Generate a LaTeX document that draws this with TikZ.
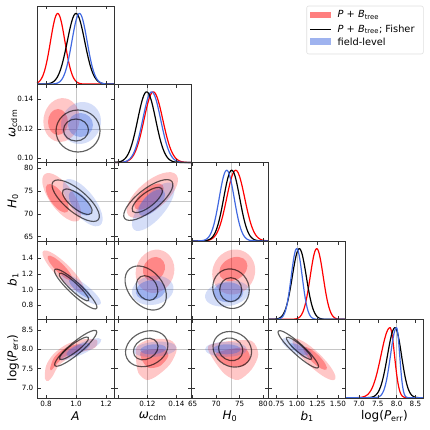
\documentclass[tikz,border=0pt]{standalone}
\usepackage{fontspec}
\setmainfont{DejaVu Sans}
\definecolor{chainred}{RGB}{255,0,0}
\definecolor{chainblue}{RGB}{65,105,225}
\tikzset{
  redout/.style={fill=chainred, fill opacity=0.22},
  redin/.style={fill=chainred, fill opacity=0.32},
  blueout/.style={fill=chainblue, fill opacity=0.22},
  bluein/.style={fill=chainblue, fill opacity=0.38},
  fisher/.style={draw=black, draw opacity=0.62, line width=1.15pt},
  fiducial/.style={draw=gray!45, line width=0.5pt},
  frame/.style={draw=black!80, line width=0.7pt},
  tick/.style={draw=black!80, line width=0.6pt},
  ticklab/.style={font=\fontsize{7.2}{8}\selectfont, inner sep=0pt},
  axlabel/.style={font=\fontsize{12}{14}\selectfont, inner sep=0pt},
  legtext/.style={font=\fontsize{9.8}{11}\selectfont, anchor=west, inner sep=0pt}
}
% one 2D contour: style, centre x, centre y, radii, clockwise angle
\newcommand{\blob}[6]{\path[#1] (#2,#3) ellipse [x radius=#4, y radius=#5, rotate={-1*(#6)}];}
% one 1D marginal: colour, left, right, base, peak, mean, sigma left, sigma right
\newcommand{\onedee}[8]{\draw[#1, line width=1.2pt] plot[domain=#2:#3, samples=140, smooth]
  (\x, {#4-(#4-#5)*exp(max(-9,-((\x-(#6))^2)/(2*ifthenelse(\x<#6,#7,#8)^2)))});}

\begin{document}
\begin{tikzpicture}[x=1pt, y=-1pt]
  % Panel sizes of the triangle
  \def\pw{77.2} % panel width
  \def\ph{78.4} % panel height
  \useasboundingbox (0,0) rectangle (430,430);

  % Fiducial lines
  \foreach \c/\xf in {0/76,1/147.4,2/231.7,3/297,4/396.6}
    \draw[fiducial] (\xf,{6+\ph*\c}) -- (\xf,398);
  \foreach \r/\yf in {1/129.3,2/201,3/289.3,4/349.3}
    \draw[fiducial] (37,\yf) -- ({37+\pw*\r},\yf);

  % Red contours (P + B_tree)
  \blob{redout}{61.5}{120}{18}{22}{10}
  \blob{redin}{58}{122}{10}{13}{0}
  \blob{redout}{61.7}{197.3}{28.7}{12}{54}
  \blob{redin}{57.3}{198.3}{17}{7}{54}
  \blob{redout}{152.3}{195}{31.4}{14}{-40}
  \blob{redin}{149}{196.7}{18}{8}{-40}
  \blob{redout}{63.3}{271.3}{28.5}{7.5}{45}
  \blob{redin}{60}{268}{17}{4.5}{45}
  \blob{redout}{155}{271.3}{22}{19}{-70}
  \blob{redin}{154}{269}{12.5}{10.5}{-60}
  \blob{redout}{233.7}{272}{23}{21}{-60}
  \blob{redin}{233.3}{269}{15}{11}{-30}
  \fill[redout] plot[smooth cycle] coordinates {(45,378.7) (46,366) (53.3,354.3) (66.7,344.3)
    (83.3,339.3) (96.7,340) (95,347.7) (80,352.7) (66.7,359.3) (58.3,366) (52.7,376) (48.3,381)};
  \fill[redin] plot[smooth cycle] coordinates {(50,368.7) (54,357.7) (63.3,349.3) (76.7,344.3)
    (83.3,346) (76.7,352) (63.3,357.7) (55,366) (51.7,370)};
  \fill[redout] plot[smooth cycle] coordinates {(137.3,346) (150,339.3) (170,340) (176.7,349.3)
    (170,364.3) (156.7,376) (146.7,380) (138.3,372.7) (136,357.7)};
  \fill[redin] plot[smooth cycle] coordinates {(141.7,351) (163.3,349.3) (168.3,356) (160,366)
    (148.3,367.7) (141.7,359.3)};
  \fill[redout] plot[smooth cycle] coordinates {(208.3,346) (230,341) (251.7,341) (258.3,354.3)
    (251.7,369.3) (238.3,380) (225,374.3) (213.3,359.3)};
  \fill[redin] plot[smooth cycle] coordinates {(216.7,352.7) (243.3,347.7) (250,357.7) (243.3,366)
    (230,366) (220,361)};
  \blob{redout}{314}{359.3}{29}{7.5}{44}
  \blob{redin}{315}{358.3}{16}{4.5}{44}

  % Blue contours (field-level)
  \blob{blueout}{81}{123}{19.5}{21.5}{30}
  \blob{bluein}{80.5}{125}{12.5}{12}{0}
  \blob{blueout}{82.7}{202.7}{28.5}{12}{52}
  \blob{bluein}{80}{203.3}{15}{7.5}{50}
  \blob{blueout}{153.3}{206.7}{30}{12}{-50}
  \blob{bluein}{151.7}{202.7}{17}{8}{-45}
  \blob{blueout}{81}{289.3}{24.4}{6.5}{37}
  \blob{bluein}{80}{288.7}{14}{4}{40}
  \blob{blueout}{152.7}{290.3}{21}{14.5}{-10}
  \blob{bluein}{150.7}{290.3}{15}{10}{-10}
  \blob{blueout}{227.3}{293.7}{22.5}{12.5}{-10}
  \blob{bluein}{228.3}{292.3}{15}{10}{0}
  \blob{blueout}{80}{349.3}{23.5}{5.5}{-25}
  \blob{bluein}{78.3}{349.3}{13}{4}{-25}
  \blob{blueout}{155}{349.3}{21.7}{7.5}{-5}
  \blob{bluein}{153.3}{349.3}{13}{5}{-5}
  \blob{blueout}{226}{349.3}{21}{7.5}{0}
  \blob{bluein}{226.7}{349.3}{14}{5}{0}
  \blob{blueout}{297.3}{348.3}{18}{5.5}{30}
  \blob{bluein}{299}{349.3}{10.5}{3.5}{30}

  % Black contours (Fisher)
  \blob{fisher}{78}{131}{22}{21}{0}
  \blob{fisher}{76}{130}{12.5}{11}{0}
  \blob{fisher}{75.7}{200.7}{29.5}{11}{40}
  \blob{fisher}{77.3}{201.7}{18.3}{7}{39}
  \blob{fisher}{148.3}{200}{30}{11}{-38}
  \blob{fisher}{147.3}{200}{18.5}{7}{-38}
  \blob{fisher}{75.7}{289}{28.5}{6}{43}
  \blob{fisher}{74}{287}{20}{4}{43}
  \blob{fisher}{145.7}{288}{25}{17}{50}
  \blob{fisher}{147}{288}{13}{10}{60}
  \blob{fisher}{231}{288.7}{20}{18}{70}
  \blob{fisher}{230.7}{289.7}{11}{12}{0}
  \blob{fisher}{75.7}{348.3}{27}{6}{-40}
  \blob{fisher}{74}{348.3}{18}{4}{-37}
  \blob{fisher}{146.7}{348.7}{22}{17}{-25}
  \blob{fisher}{145.7}{349}{13}{10}{-30}
  \blob{fisher}{232.3}{349.3}{20}{17}{30}
  \blob{fisher}{230.7}{349.3}{12.5}{11}{30}
  \blob{fisher}{298.3}{349.3}{27}{5.5}{42.5}
  \blob{fisher}{299}{348.3}{16.5}{3.5}{41}

  % 1D marginals on the diagonal
  \onedee{chainred}{37}{114.2}{84.1}{13.5}{57.7}{7.2}{7.2}
  \onedee{black}{37}{114.2}{84.1}{13.5}{76}{8.7}{8.7}
  \onedee{chainblue}{37}{114.2}{84.1}{13.5}{79.5}{7.6}{7.6}
  \onedee{chainred}{114.2}{191.4}{162.5}{91.9}{153.3}{9.3}{9.5}
  \onedee{chainblue}{114.2}{191.4}{162.5}{91.9}{151.7}{9}{9}
  \onedee{black}{114.2}{191.4}{162.5}{91.9}{146.7}{9}{9}
  \onedee{chainred}{191.4}{268.6}{240.9}{170.3}{235.7}{9}{9}
  \onedee{black}{191.4}{268.6}{240.9}{170.3}{231.7}{8}{8}
  \onedee{chainblue}{191.4}{268.6}{240.9}{170.3}{226.7}{7.5}{7.5}
  \onedee{chainred}{268.6}{345.8}{319.3}{248.7}{316.7}{6.5}{6.5}
  \onedee{black}{268.6}{345.8}{319.3}{248.7}{299.3}{7}{7}
  \onedee{chainblue}{268.6}{345.8}{319.3}{248.7}{296.7}{5.5}{5.5}
  \onedee{chainred}{345.8}{423}{397.7}{327.7}{390}{9}{4.5}
  \onedee{black}{345.8}{423}{397.7}{327.7}{395}{7.5}{6.5}
  \onedee{chainblue}{345.8}{423}{397.7}{327.7}{396.5}{6}{3.2}

  % Panel frames
  \foreach \r in {0,...,4}
    \foreach \c in {0,...,\r}
      \draw[frame] ({37+\pw*\c},{6+\ph*\r}) rectangle ++(\pw,\ph);

  % Ticks, pointing inwards on every side
  \foreach \c/\ticks in {0/{46,76,106},1/{118.4,147.4,176.5},2/{192.7,216.2,239.6,263.1},
                         3/{276.5,297,317.5,338},4/{359,377.8,396.6,415.4}}
    \foreach \r in {\c,...,4}
      \foreach \t in \ticks {
        \pgfmathsetmacro\ytop{6+\ph*\r}
        \pgfmathsetmacro\ybot{\ytop+\ph}
        \draw[tick] (\t,\ybot) -- ++(0,-3.5) (\t,\ytop) -- ++(0,3.5);
      }
  \foreach \r/\ticks in {1/{99.3,129.3,158.3},2/{168.3,191.1,213.9,236.7},
                         3/{258.3,273.9,289.5,305.1},4/{330,349.3,368.6,387.9}}
    \foreach \c in {1,...,\r}
      \foreach \t in \ticks {
        \pgfmathsetmacro\xl{37+\pw*(\c-1)}
        \pgfmathsetmacro\xr{\xl+\pw}
        \draw[tick] (\xl,\t) -- ++(3.5,0) (\xr,\t) -- ++(-3.5,0);
      }

  % Tick labels
  \foreach \t/\lab [count=\i] in {99.3/0.14,129.3/0.12,158.3/0.10,168.3/80,191.1/75,213.9/70,236.7/65,
      258.3/1.4,273.9/1.2,289.5/1.0,305.1/0.8,330/8.5,349.3/8.0,368.6/7.5,387.9/7.0}
    \node[ticklab, anchor=east] (ytick\i) at (33.5,\t) {\lab};
  \foreach \t/\lab [count=\i] in {46/0.8,76/1.0,106/1.2,147.4/0.12,176.5/0.14,192.7/65,216.2/70,
      239.6/75,263.1/80,276.5/0.75,297/1.00,317.5/1.25,338/1.50,359/7.0,377.8/7.5,396.6/8.0,415.4/8.5}
    \node[ticklab, anchor=north] (xtick\i) at (\t,401) {\lab};

  % Axis labels
  \node[axlabel, rotate=90] (ylab-omega) at (13,123.6) {{\itshape ω}\textsubscript{cdm}};
  \node[axlabel, rotate=90] (ylab-hubble) at (13,201) {{\itshape H}\textsubscript{0}};
  \node[axlabel, rotate=90] (ylab-bias) at (13,279.4) {{\itshape b}\textsubscript{1}};
  \node[axlabel, rotate=90] (ylab-perr) at (13,357.8) {log({\itshape P}\textsubscript{err})};
  \node[axlabel] (xlab-amp) at (75.6,416.5) {{\itshape A}};
  \node[axlabel] (xlab-omega) at (152.8,416.5) {{\itshape ω}\textsubscript{cdm}};
  \node[axlabel] (xlab-hubble) at (230,416.5) {{\itshape H}\textsubscript{0}};
  \node[axlabel] (xlab-bias) at (307.2,416.5) {{\itshape b}\textsubscript{1}};
  \node[axlabel] (xlab-perr) at (384.4,416.5) {log({\itshape P}\textsubscript{err})};

  % Legend
  \draw[draw=gray!25, fill=white, rounded corners=2pt, line width=0.6pt] (306.7,6) rectangle (423.3,54);
  \fill[chainred, fill opacity=0.5] (310,11.7) rectangle (331,18.3);
  \draw[black, line width=1.2pt] (310,29.3) -- (331,29.3);
  \fill[chainblue, fill opacity=0.5] (310,38.5) rectangle (331,45);
  \node[legtext] (leg-pb) at (337.5,15) {{\itshape P} + {\itshape B}\textsubscript{tree}};
  \node[legtext] (leg-fisher) at (337.5,29.3) {{\itshape P} + {\itshape B}\textsubscript{tree}; Fisher};
  \node[legtext] (leg-field) at (337.5,42) {field-level};
\end{tikzpicture}
\end{document}
